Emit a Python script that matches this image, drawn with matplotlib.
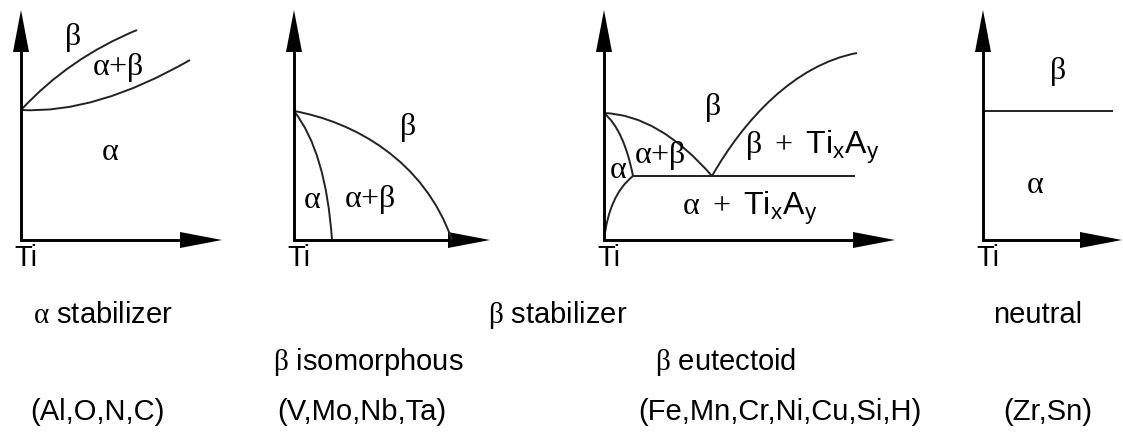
import matplotlib
matplotlib.use("Agg")
import matplotlib.pyplot as plt
from matplotlib.path import Path
from matplotlib.patches import PathPatch, Polygon

plt.rcParams['font.family'] = ['Liberation Sans', 'DejaVu Sans']
plt.rcParams['mathtext.fontset'] = 'custom'
plt.rcParams['mathtext.rm'] = 'Liberation Serif'
plt.rcParams['mathtext.it'] = 'Liberation Serif'
plt.rcParams['mathtext.sf'] = 'Liberation Sans'

W, H = 1123, 445

# Ti corner of each diagram (pixels) and length of the composition axis
origins = [(21, 240), (294, 240), (604, 240), (983, 240)]
x_len = [201, 196, 291, 139]
y_len = 230
head_len, head_w = 42, 16

# phase boundaries as (composition, temperature) from the Ti corner
# alpha stabilizer
p1_beta_transus = [(0, 130), (48, 182), (116, 210)]
p1_alpha_transus = [(0, 130), (75, 126), (169, 180)]
# beta isomorphous
p2_beta_transus = [(0, 129), (60, 118), (130, 80), (158, 0)]
p2_alpha_transus = [(0, 129), (32, 88), (38, 0)]
# beta eutectoid
p3_beta_transus = [(0, 127), (55, 125), (108, 64)]
p3_alpha_upper = [(0, 127), (20, 110), (29, 64)]
p3_alpha_lower = [(0, 0), (5, 45), (29, 64)]
p3_eutectoid = [(29, 64), (251, 64)]
p3_solvus = [(108, 64), (140, 120), (190, 175), (253, 187)]
# neutral
p4_transus = [(0, 129), (130, 129)]

curves = [
    (0, p1_beta_transus), (0, p1_alpha_transus),
    (1, p2_beta_transus), (1, p2_alpha_transus),
    (2, p3_beta_transus), (2, p3_alpha_upper), (2, p3_alpha_lower),
    (2, p3_eutectoid), (2, p3_solvus),
    (3, p4_transus),
]

# phase field labels: panel, composition, temperature, text
phase_labels = [
    (0, 51, 203, r'$\beta$'),
    (0, 97, 172, r'$\alpha{+}\beta$'),
    (0, 89, 88, r'$\alpha$'),
    (1, 113, 112, r'$\beta$'),
    (1, 18, 40, r'$\alpha$'),
    (1, 76, 40, r'$\alpha{+}\beta$'),
    (2, 108, 132, r'$\beta$'),
    (2, 208, 93, r'$\beta\ +\ \mathsf{Ti_xA_y}$'),
    (2, 14, 70, r'$\alpha$'),
    (2, 56, 85, r'$\alpha{+}\beta$'),
    (2, 146, 32, r'$\alpha\ +\ \mathsf{Ti_xA_y}$'),
    (3, 74, 168, r'$\beta$'),
    (3, 52, 55, r'$\alpha$'),
]

# captions under the diagrams: left x, y, text
captions = [
    (33, 315, r'$\alpha$ stabilizer'),
    (488, 315, r'$\beta$ stabilizer'),
    (993, 315, 'neutral'),
    (273, 362, r'$\beta$ isomorphous'),
    (655, 362, r'$\beta$ eutectoid'),
    (30, 412, '(Al,O,N,C)'),
    (277, 412, '(V,Mo,Nb,Ta)'),
    (638, 412, '(Fe,Mn,Cr,Ni,Cu,Si,H)'),
    (1003, 412, '(Zr,Sn)'),
]


def draw_axes(ax, origin, xl):
    ox, oy = origin
    ax.plot([ox, ox, ox + xl - head_len + 2], [oy - y_len + head_len - 2, oy, oy],
            color='k', lw=2.1, solid_joinstyle='miter', solid_capstyle='butt')
    ax.add_patch(Polygon([(ox - head_w / 2, oy - y_len + head_len), (ox + head_w / 2, oy - y_len + head_len),
                          (ox, oy - y_len)], closed=True, color='k', lw=0))
    ax.add_patch(Polygon([(ox + xl - head_len, oy - head_w / 2), (ox + xl - head_len, oy + head_w / 2),
                          (ox + xl, oy)], closed=True, color='k', lw=0))
    ax.text(ox - 7, 258, 'Ti', ha='left', va='center', fontsize=21)


def draw_curve(ax, origin, pts):
    ox, oy = origin
    verts = [(ox + c, oy - t) for c, t in pts]
    code = {2: Path.LINETO, 3: Path.CURVE3, 4: Path.CURVE4}[len(verts)]
    codes = [Path.MOVETO] + [code] * (len(verts) - 1)
    ax.add_patch(PathPatch(Path(verts, codes), fill=False, lw=1.4, edgecolor='#222222'))


fig = plt.figure(figsize=(W / 100, H / 100), dpi=100)
ax = fig.add_axes([0, 0, 1, 1])
ax.set_xlim(0, W)
ax.set_ylim(H, 0)
ax.axis('off')

for origin, xl in zip(origins, x_len):
    draw_axes(ax, origin, xl)

for i, pts in curves:
    draw_curve(ax, origins[i], pts)

for i, c, t, s in phase_labels:
    ox, oy = origins[i]
    ax.text(ox + c, oy - t, s, ha='center', va='center', fontsize=23)

for x, y, s in captions:
    ax.text(x, y, s, ha='left', va='center', fontsize=21)

fig.savefig('out.png', dpi=100)
